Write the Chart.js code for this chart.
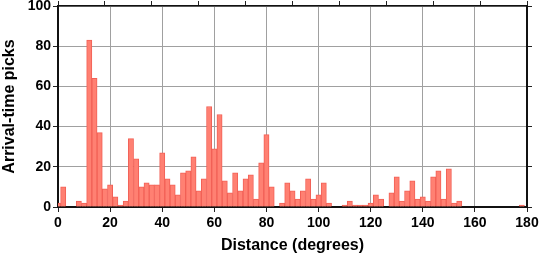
<!DOCTYPE html>
<html>
<head>
<meta charset="utf-8">
<script src="https://cdn.jsdelivr.net/npm/chart.js@4"></script>
<style>
  html, body { margin: 0; padding: 0; background: #fff; }
  #chartBox { width: 539px; height: 258px; }
</style>
</head>
<body>
<div id="chartBox"><canvas id="myChart"></canvas></div>
<script>
// bin centres in degrees (2 degree bins)
let binCentres = [
  0, 2, 4, 6, 8, 10, 12, 14, 16, 18,
  20, 22, 24, 26, 28, 30, 32, 34, 36, 38,
  40, 42, 44, 46, 48, 50, 52, 54, 56, 58,
  60, 62, 64, 66, 68, 70, 72, 74, 76, 78,
  80, 82, 84, 86, 88, 90, 92, 94, 96, 98,
  100, 102, 104, 106, 108, 110, 112, 114, 116, 118,
  120, 122, 124, 126, 128, 130, 132, 134, 136, 138,
  140, 142, 144, 146, 148, 150, 152, 154, 156, 158,
  160, 162, 164, 166, 168, 170, 172, 174, 176, 178
];

// number of arrival-time picks in each bin
let pickCounts = [
  2, 10, 0, 0, 3, 2, 83, 64, 37, 9,
  11, 5, 1, 3, 34, 24, 10, 12, 11, 11,
  27, 14, 11, 6, 17, 18, 25, 8, 14, 50,
  29, 46, 13, 7, 17, 8, 14, 16, 4, 22,
  36, 10, 0, 2, 12, 8, 4, 8, 14, 4,
  6, 12, 2, 0, 0, 1, 3, 1, 1, 1,
  2, 6, 4, 0, 7, 15, 3, 8, 13, 4,
  5, 3, 15, 18, 4, 19, 2, 3, 0, 0,
  0, 0, 0, 0, 0, 0, 0, 0, 0, 1
];

let xTicks = [0, 20, 40, 60, 80, 100, 120, 140, 160, 180];
let yTicks = [0, 20, 40, 60, 80, 100];

let tickFont = { family: "Liberation Sans", size: 14, weight: "bold" };
let titleFont = { family: "Liberation Sans", size: 16, weight: "bold" };

let barPoints = [];
for (let i = 0; i < binCentres.length; i++) {
  barPoints.push({ x: binCentres[i], y: pickCounts[i] });
}

// fix the plot frame so it sits where the reference has it
function fixSize(size) {
  return function (scale) {
    if (scale.isHorizontal()) {
      scale.height = size;
    } else {
      scale.width = size;
    }
    // labels may hang over the edges, no extra room for them
    scale.paddingTop = 0;
    scale.paddingBottom = 0;
    scale.paddingLeft = 0;
    scale.paddingRight = 0;
  };
}

let ctx = document.getElementById("myChart").getContext("2d");
let chart = new Chart(ctx, {
  type: "bar",
  data: {
    datasets: [
      {
        label: "Arrival-time picks",
        data: barPoints,
        backgroundColor: "rgb(255, 128, 114)",
        borderColor: "rgb(242, 96, 86)",
        borderWidth: 1,
        borderSkipped: "start",
        barPercentage: 1,
        categoryPercentage: 1
      }
    ]
  },
  options: {
    responsive: true,
    maintainAspectRatio: false,
    animation: false,
    layout: { padding: 0 },
    plugins: {
      legend: { display: false },
      tooltip: { enabled: false }
    },
    scales: {
      x: {
        type: "linear",
        position: "bottom",
        min: 0,
        max: 180,
        offset: false,
        afterFit: fixSize(51),
        afterBuildTicks: function (scale) {
          scale.ticks = xTicks.map(v => ({ value: v }));
        },
        ticks: { font: tickFont, color: "#000", padding: 3 },
        grid: {
          offset: false,
          color: "#a0a0a0",
          lineWidth: 1,
          tickLength: 5,
          tickColor: "#222"
        },
        border: { display: true, color: "#111", width: 2 },
        title: {
          display: true,
          text: "Distance (degrees)",
          font: titleFont,
          color: "#000",
          padding: { top: 0, bottom: 3 }
        }
      },
      y: {
        type: "linear",
        position: "left",
        min: 0,
        max: 100,
        afterFit: fixSize(58),
        afterBuildTicks: function (scale) {
          scale.ticks = yTicks.map(v => ({ value: v }));
        },
        ticks: { font: tickFont, color: "#000", padding: 2 },
        grid: {
          color: "#a0a0a0",
          lineWidth: 1,
          tickLength: 5,
          tickColor: "#222"
        },
        border: { display: true, color: "#111", width: 2 },
        title: {
          display: true,
          text: "Arrival-time picks",
          font: titleFont,
          color: "#000",
          padding: { top: 0, bottom: 0 }
        }
      },
      // top and right axes only carry tick marks and the frame
      x2: {
        type: "linear",
        position: "top",
        min: 0,
        max: 180,
        afterFit: fixSize(6),
        afterBuildTicks: function (scale) {
          scale.ticks = xTicks.map(v => ({ value: v }));
        },
        ticks: { display: false },
        grid: { drawOnChartArea: false, tickLength: 5, tickColor: "#222" },
        border: { display: true, color: "#111", width: 1.5 }
      },
      y2: {
        type: "linear",
        position: "right",
        min: 0,
        max: 100,
        afterFit: fixSize(12),
        afterBuildTicks: function (scale) {
          scale.ticks = yTicks.map(v => ({ value: v }));
        },
        ticks: { display: false },
        grid: { drawOnChartArea: false, tickLength: 5, tickColor: "#222" },
        border: { display: true, color: "#111", width: 2 }
      }
    }
  }
});
</script>
</body>
</html>
